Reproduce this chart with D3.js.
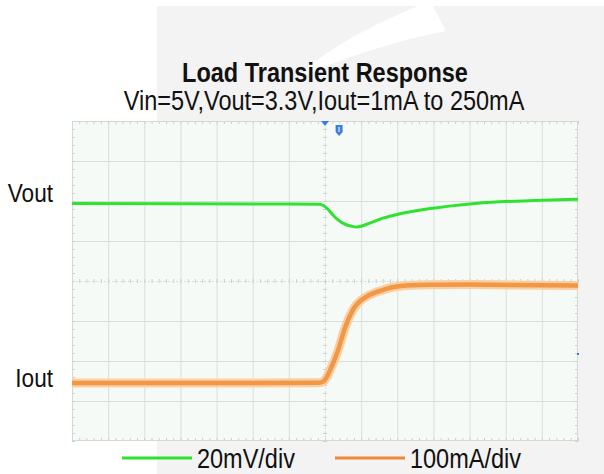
<!DOCTYPE html>
<html>
<head>
<meta charset="utf-8">
<script src="https://cdn.jsdelivr.net/npm/d3@7"></script>
<style>
  body { margin: 0; background: #fff; }
  svg { display: block; font-family: "Liberation Sans", Arial, sans-serif; }
</style>
</head>
<body>
<svg id="chart"></svg>
<script>
// time in divisions relative to the trigger (14 divisions across the screen)
const voutTime = [-7, -4, -1, -0.14, 0, 0.11, 0.22, 0.36, 0.47, 0.61, 0.75, 0.89, 1.02, 1.16, 1.38, 1.6, 2.08, 2.99, 3.93, 4.84, 5.76, 7];
// Vout deviation from 3.3V, mV (20mV/div)
const voutMv = [0, -0.2, -0.3, -0.4, -1.6, -3.5, -5.8, -8.2, -9.6, -10.8, -11.5, -11.8, -11.3, -10.4, -8.9, -7.4, -5.2, -2.4, -0.4, 0.8, 1.4, 2.1];

const ioutTime = [-7, -3, -0.19, -0.08, 0, 0.14, 0.36, 0.55, 0.75, 0.83, 1.0, 1.19, 1.38, 1.55, 1.72, 1.91, 2.1, 2.38, 2.99, 4, 7];
// load current, mA (100mA/div)
const ioutMa = [1, 1, 1.5, 3, 9, 33, 82, 138, 180, 192, 208, 219, 227, 232, 237, 241, 243.5, 245.5, 246.5, 247, 245];

const channels = ["Vout", "Iout"];
const legendLabels = ["20mV/div", "100mA/div"];
const titleText = "Load Transient Response";
const subtitleText = "Vin=5V,Vout=3.3V,Iout=1mA to 250mA";

const config = {
  width: 604, height: 474,
  plot: { left: 72, right: 578, top: 121, bottom: 441 },
  voutOffsetDiv: 1.94,   // screen position of the Vout reference level
  ioutOffsetDiv: -2.56,  // screen position of 0mA
  green: "#2fe22f",
  orange: "#f29746",
  orangeHalo: "#f9cfa4"
};

const svg = d3.select("#chart")
    .attr("width", config.width)
    .attr("height", config.height);

// page background: light gray panel and white swoosh
svg.append("rect")
    .attr("x", 157).attr("y", 6)
    .attr("width", config.width - 157).attr("height", config.height - 6)
    .attr("fill", "#f3f3f3");
svg.append("path")
    .attr("d", "M418,6 L433,6 L446,31 C400,40 345,56 295,80 C325,48 375,24 418,6 Z")
    .attr("fill", "#fff");

const p = config.plot;
const x = d3.scaleLinear().domain([-7, 7]).range([p.left, p.right]);
const y = d3.scaleLinear().domain([-4, 4]).range([p.bottom, p.top]);
const plotW = p.right - p.left;
const plotH = p.bottom - p.top;

svg.append("rect")
    .attr("x", p.left).attr("y", p.top)
    .attr("width", plotW).attr("height", plotH)
    .attr("fill", "#f6faf6");

// major grid
const gridColor = "#d8dfd8";
const xGrid = svg.append("g")
    .attr("transform", `translate(0,${p.bottom})`)
    .call(d3.axisBottom(x).tickValues(d3.range(-6, 7)).tickSize(-plotH).tickFormat(""));
const yGrid = svg.append("g")
    .attr("transform", `translate(${p.left},0)`)
    .call(d3.axisLeft(y).tickValues(d3.range(-3, 4)).tickSize(-plotW).tickFormat(""));
[xGrid, yGrid].forEach(g => {
  g.select(".domain").remove();
  g.selectAll("line").attr("stroke", gridColor).attr("stroke-width", 1);
});
xGrid.selectAll(".tick").filter(d => d === 0).select("line").attr("stroke-dasharray", "2,2");
yGrid.selectAll(".tick").filter(d => d === 0).select("line").attr("stroke-dasharray", "2,2");

// minor ticks on the centre lines and borders
const minorX = d3.range(-7, 7.01, 0.2);
const minorY = d3.range(-4, 4.01, 0.2);
const tickColor = "#c9d0c9";
function minor(axisFn, scale, values, pos, size) {
  const g = svg.append("g")
      .attr("transform", pos)
      .call(axisFn(scale).tickValues(values).tickSize(size).tickSizeOuter(0).tickFormat(""));
  g.select(".domain").remove();
  g.selectAll("line").attr("stroke", tickColor);
}
minor(d3.axisBottom, x, minorX, `translate(0,${y(0) - 2})`, 4);
minor(d3.axisTop, x, minorX, `translate(0,${p.bottom})`, 3);
minor(d3.axisBottom, x, minorX, `translate(0,${p.top})`, 3);
minor(d3.axisRight, y, minorY, `translate(${x(0) - 2},0)`, 4);
minor(d3.axisRight, y, minorY, `translate(${p.left},0)`, 3);
minor(d3.axisLeft, y, minorY, `translate(${p.right},0)`, 3);

svg.append("rect")
    .attr("x", p.left + 0.5).attr("y", p.top + 0.5)
    .attr("width", plotW - 1).attr("height", plotH - 1)
    .attr("fill", "none").attr("stroke", "#d3d9d3");

// trigger markers
const markBlue = "#3b7de0";
svg.append("path")
    .attr("d", `M${x(0) - 4},${p.top} L${x(0) + 4},${p.top} L${x(0)},${p.top + 5} Z`)
    .attr("fill", markBlue);
const tx = x(0.39);
svg.append("path")
    .attr("d", `M${tx - 3.5},${p.top + 4} h7 v7 l-3.5,4 l-3.5,-4 Z`)
    .attr("fill", markBlue);
svg.append("rect")
    .attr("x", tx - 0.7).attr("y", p.top + 6)
    .attr("width", 1.4).attr("height", 5)
    .attr("fill", "#d6e5fb");
svg.append("rect")
    .attr("x", p.right - 1).attr("y", 353)
    .attr("width", 2).attr("height", 2)
    .attr("fill", markBlue);

// traces
const voutLine = d3.line()
    .x((d, i) => x(voutTime[i]))
    .y(d => y(config.voutOffsetDiv + d / 20))
    .curve(d3.curveMonotoneX);
const ioutLine = d3.line()
    .x((d, i) => x(ioutTime[i]))
    .y(d => y(config.ioutOffsetDiv + d / 100))
    .curve(d3.curveMonotoneX);

svg.append("path")
    .attr("d", ioutLine(ioutMa))
    .attr("fill", "none")
    .attr("stroke", config.orangeHalo)
    .attr("stroke-width", 9);
svg.append("path")
    .attr("d", ioutLine(ioutMa))
    .attr("fill", "none")
    .attr("stroke", config.orange)
    .attr("stroke-width", 4.5);
svg.append("path")
    .attr("d", voutLine(voutMv))
    .attr("fill", "none")
    .attr("stroke", config.green)
    .attr("stroke-width", 3);

// text, drawn in a condensed Arial style
function label(x0, y0, str, size, weight, anchor) {
  svg.append("text")
      .attr("transform", `translate(${x0},${y0}) scale(0.87,1)`)
      .attr("text-anchor", anchor)
      .attr("font-size", size)
      .attr("font-weight", weight)
      .attr("fill", "#111")
      .text(str);
}

label(325, 82, titleText, 27, "bold", "middle");
label(324, 110, subtitleText, 27, "normal", "middle");
label(53, 202, channels[0], 26, "normal", "end");
label(53, 387, channels[1], 26, "normal", "end");

// legend
const legendX = [122, 335];
const legendColors = [config.green, "#f0883a"];
legendLabels.forEach((t, i) => {
  svg.append("line")
      .attr("x1", legendX[i]).attr("x2", legendX[i] + 70)
      .attr("y1", 458).attr("y2", 458)
      .attr("stroke", legendColors[i])
      .attr("stroke-width", 3);
  label(legendX[i] + 75, 468, t, 27, "normal", "start");
});
</script>
</body>
</html>
